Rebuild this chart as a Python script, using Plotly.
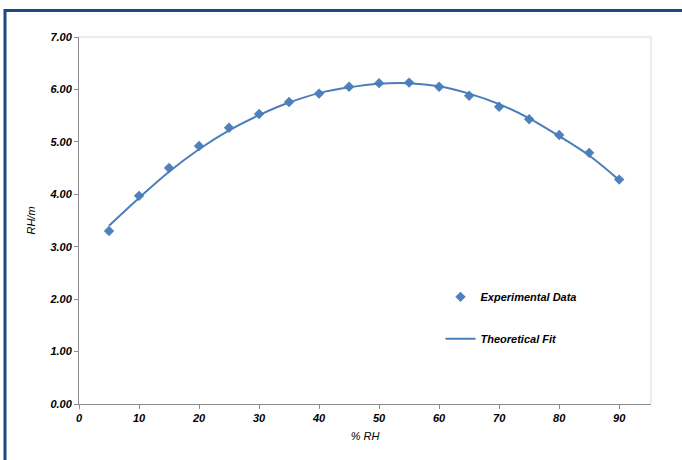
import plotly.graph_objects as go

rh = [5, 10, 15, 20, 25, 30, 35, 40, 45, 50, 55, 60, 65, 70, 75, 80, 85, 90]
exp_data = [3.30, 3.97, 4.50, 4.92, 5.27, 5.53, 5.76, 5.92, 6.05, 6.12, 6.13, 6.05, 5.88, 5.67, 5.43, 5.13, 4.79, 4.28]
fit_data = [3.40, 3.93, 4.43, 4.86, 5.22, 5.51, 5.75, 5.93, 6.04, 6.11, 6.12, 6.06, 5.92, 5.72, 5.45, 5.11, 4.74, 4.27]
x_ticks = [0, 10, 20, 30, 40, 50, 60, 70, 80, 90]
y_ticks = [0, 1, 2, 3, 4, 5, 6, 7]

font_fam = "Liberation Sans, Arial, sans-serif"
tick_font = dict(family=font_fam, size=11, color="#000000", style="italic", weight="bold")
title_font = dict(family=font_fam, size=11, color="#000000", style="italic", weight="normal")
legend_font = dict(family=font_fam, size=11, color="#000000", style="italic", weight="bold")

fig = go.Figure()
fig.add_trace(go.Scatter(
    x=rh, y=exp_data, mode="markers", name="Experimental Data",
    marker=dict(symbol="diamond", size=8, color="#4F81BD"),
    legend="legend",
))
fig.add_trace(go.Scatter(
    x=rh, y=fit_data, mode="lines", name="Theoretical Fit",
    line=dict(color="#4A7EBB", width=2, shape="spline"),
    legend="legend2",
))

axis_common = dict(
    showgrid=False, zeroline=False, showline=True, linecolor="#8c8c8c", linewidth=1,
    ticks="outside", ticklen=4, tickcolor="#8c8c8c", tickfont=tick_font,
)

fig.update_layout(
    width=682, height=460,
    margin=dict(l=79, r=31, t=37, b=56),
    paper_bgcolor="white", plot_bgcolor="white",
    showlegend=True,
    xaxis=dict(range=[0, 95.3], tickvals=x_ticks, ticktext=[str(v) for v in x_ticks],
               title=dict(text="% RH", font=title_font, standoff=9), **axis_common),
    yaxis=dict(range=[0, 7], tickvals=y_ticks, ticktext=[f"{v:.2f}" for v in y_ticks],
               title=dict(text="RH/m", font=title_font, standoff=11), **axis_common),
    legend=dict(x=0.632, y=0.292, xanchor="left", yanchor="middle",
                font=legend_font, bgcolor="rgba(0,0,0,0)"),
    legend2=dict(x=0.632, y=0.178, xanchor="left", yanchor="middle",
                 font=legend_font, bgcolor="rgba(0,0,0,0)"),
    shapes=[
        dict(type="line", xref="paper", yref="paper", x0=1, x1=1, y0=0, y1=1,
             line=dict(color="#d9d9d9", width=1)),
        dict(type="line", xref="paper", yref="paper", x0=0, x1=1, y0=1, y1=1,
             line=dict(color="#d9d9d9", width=1)),
        dict(type="rect", xref="paper", yref="paper",
             x0=(5 - 79) / 572, x1=1.2, y0=-0.3, y1=(404 - 10.5) / 367,
             line=dict(color="#1c4a7e", width=3)),
    ],
)

fig.write_html("out.html", config={"displayModeBar": False},
               post_script="document.body.style.margin='0';")
